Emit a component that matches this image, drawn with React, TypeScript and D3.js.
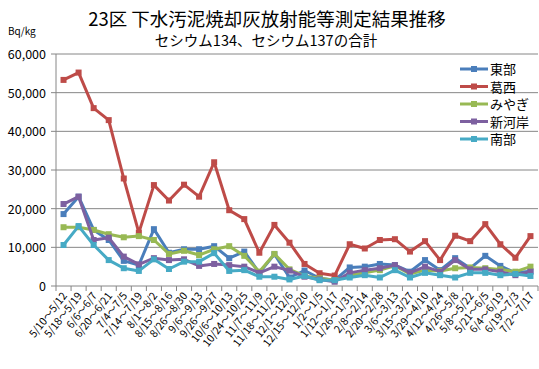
import React from 'react'
import * as d3 from 'd3'

const categories = [
  '5/10～5/12', '5/18～5/19', '6/6～6/7', '6/20～6/21', '7/4～7/5', '7/14～7/19',
  '8/1～8/2', '8/15～8/16', '8/26～8/30', '9/6～9/13', '9/26～9/27', '10/6～10/13',
  '10/24～10/25', '11/7～11/9', '11/18～11/22', '12/1～12/6', '12/15～12/20', '1/2～1/5',
  '1/12～1/17', '1/26～1/31', '2/8～2/14', '2/20～2/28', '3/6～3/13', '3/15～3/27',
  '3/29～4/10', '4/12～4/24', '4/26～5/8', '5/8～5/22', '5/21～6/5', '6/4～6/19',
  '6/19～7/3', '7/2～7/17',
]

const toubu = [18600, 23100, 14500, 11900, 6500, 5400, 14700, 8600, 9500, 9500, 10300, 7200, 8900, 3400, 8200, 2200,
  4000, 2000, 1500, 4800, 5000, 5700, 5400, 3700, 6700, 4100, 7200, 4600, 7800, 5200, 3400, 3800]
const kasai = [53300, 55200, 46000, 42900, 27800, 13800, 26100, 22100, 26200, 23100, 32000, 19600, 17300, 8600, 15800, 11200,
  5700, 3300, 2700, 10800, 9700, 11900, 12100, 8900, 11600, 6700, 13000, 11600, 16000, 10800, 7300, 12900]
const miyagi = [15200, 15200, 14500, 13400, 12600, 12900, 11900, 8300, 9100, 8000, 9500, 10300, 7800, 3700, 8300, 4300,
  2600, 2000, 1500, 2800, 3400, 4100, 5200, 3100, 4100, 3900, 4600, 4800, 4600, 4300, 3700, 5000]
const shingashi = [21200, 23100, 11900, 12500, 7600, 5600, 7200, 6700, 6900, 5200, 5700, 5400, 5000, 3400, 5000, 4000,
  2400, 1700, 1100, 3400, 4100, 4600, 5400, 3400, 5000, 3700, 6700, 4300, 4300, 3700, 2800, 3700]
const nanbu = [10600, 15500, 10600, 6700, 4600, 3900, 6900, 4400, 6300, 6300, 8500, 3900, 4100, 2400, 2400, 1700,
  2600, 1500, 1500, 2200, 2800, 2200, 4100, 2200, 3400, 2800, 2200, 3400, 3400, 2800, 3100, 2600]

const seriesNames = ['東部', '葛西', 'みやぎ', '新河岸', '南部']
const seriesColors = ['#4A7EBB', '#BE4B48', '#98B954', '#7D60A0', '#46AAC5']
const seriesData = [toubu, kasai, miyagi, shingashi, nanbu]
const yTicks = [0, 10000, 20000, 30000, 40000, 50000, 60000]

const W = 539
const H = 369
const font = '"Noto Sans CJK JP", "Noto Sans", sans-serif'

export default function App() {
  const left = 56, right = 538, top = 54, bottom = 286
  const x = d3.scaleBand<string>().domain(categories).range([left, right])
  const y = d3.scaleLinear().domain([0, 60000]).range([bottom, top])
  const cx = (c: string) => (x(c) ?? 0) + x.bandwidth() / 2
  const line = d3.line<number>().x((_, i) => cx(categories[i])).y(d => y(d))
  const fmt = d3.format(',')

  return (
    <svg width={W} height={H} style={{ position: 'absolute', left: 0, top: 0, background: '#fff' }} fontFamily={font}>
      <text x={267} y={26} textAnchor="middle" fontSize={18.5}>23区 下水汚泥焼却灰放射能等測定結果推移</text>
      <text x={266} y={46} textAnchor="middle" fontSize={14.5}>セシウム134、セシウム137の合計</text>
      <text x={8} y={35} fontSize={10}>Bq/kg</text>

      {yTicks.map(t => (
        <g key={t}>
          {t > 0 && <line x1={left} x2={right} y1={y(t)} y2={y(t)} stroke="#868686" strokeWidth={1} />}
          <line x1={left - 5} x2={left} y1={y(t)} y2={y(t)} stroke="#868686" />
          <text x={left - 10} y={y(t) + 5} textAnchor="end" fontSize={12.5}>{fmt(t)}</text>
        </g>
      ))}
      <line x1={left} x2={left} y1={top} y2={bottom} stroke="#868686" />
      <line x1={left} x2={right} y1={bottom} y2={bottom} stroke="#868686" />
      {categories.map(c => (
        <line key={c} x1={(x(c) ?? 0) + x.bandwidth()} x2={(x(c) ?? 0) + x.bandwidth()} y1={bottom} y2={bottom + 5} stroke="#868686" />
      ))}
      <line x1={left} x2={left} y1={bottom} y2={bottom + 5} stroke="#868686" />

      {categories.map(c => (
        <text key={c} transform={`translate(${cx(c) + 4},${bottom + 10}) rotate(-52)`} textAnchor="end" fontSize={10.5}>{c}</text>
      ))}

      {seriesData.map((s, si) => (
        <g key={si}>
          <path d={line(s) ?? ''} fill="none" stroke={seriesColors[si]} strokeWidth={3} strokeLinejoin="round" />
          {s.map((v, i) => (
            <rect key={i} x={cx(categories[i]) - 3} y={y(v) - 3} width={6} height={6} fill={seriesColors[si]} />
          ))}
        </g>
      ))}

      {seriesNames.map((n, i) => {
        const ly = 69 + i * 17.5
        return (
          <g key={n}>
            <line x1={460} x2={488} y1={ly} y2={ly} stroke={seriesColors[i]} strokeWidth={3} />
            <rect x={471} y={ly - 3} width={6} height={6} fill={seriesColors[i]} />
            <text x={490} y={ly + 5} fontSize={13}>{n}</text>
          </g>
        )
      })}
    </svg>
  )
}
